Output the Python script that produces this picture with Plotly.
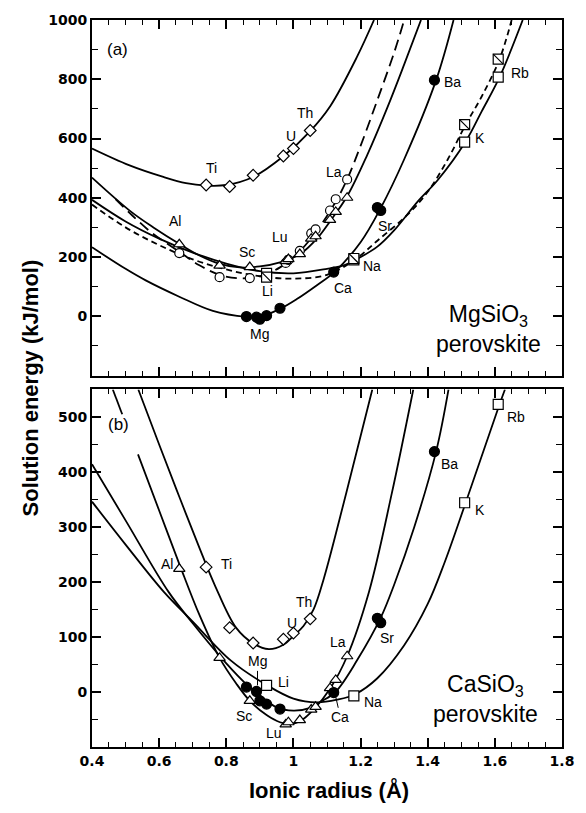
import plotly.graph_objects as go

# ---------------- (a) MgSiO3 perovskite ----------------
# solution energies (kJ/mol) against cation radius (Å)
a_tetra_r = [0.74, 0.81, 0.88, 0.97, 1.00, 1.05]
a_tetra_e = [443, 438, 476, 541, 566, 627]

a_tri_r = [0.66, 0.78, 0.87, 0.977, 0.985, 1.019, 1.053, 1.066, 1.109, 1.126, 1.16]
a_tri_circ_e = [213, 132, 129, 180, 190, 221, 280, 293, 357, 395, 462]
a_tri_tri_e = [243, 171, 166, 186, 193, 210, 262, 270, 325, 352, 400]

a_di_r = [0.86, 0.89, 0.90, 0.92, 0.96, 1.12, 1.25, 1.26, 1.42]
a_di_e = [-1, -3, -10, 2, 27, 149, 367, 357, 797]

a_mono_r = [0.92, 1.18, 1.51, 1.61]
a_mono_sq_e = [145, 190, 588, 807]
a_mono_half_e = [132, 195, 647, 868]

# fitted strain curves, panel (a)
a_fit_tetra_r = [0.40, 0.51, 0.61, 0.68, 0.74, 0.80, 0.88, 0.97, 1.05, 1.11, 1.19, 1.24]
a_fit_tetra_e = [566, 510, 471, 449, 441, 443, 470, 540, 625, 710, 877, 1000]

a_fit_circ_r = [0.47, 0.52, 0.58, 0.66, 0.72, 0.78, 0.84, 0.90, 0.96, 1.02, 1.08, 1.13,
                1.16, 1.20, 1.25, 1.30, 1.33]
a_fit_circ_e = [395, 340, 280, 218, 172, 140, 128, 135, 165, 221, 305, 395,
                462, 575, 730, 890, 1000]

a_fit_tri_r = [0.40, 0.515, 0.584, 0.662, 0.72, 0.78, 0.84, 0.90, 0.96, 1.02, 1.07, 1.11,
               1.16, 1.22, 1.28, 1.33, 1.38]
a_fit_tri_e = [468, 354, 299, 243, 205, 177, 165, 168, 182, 210, 262, 322,
               405, 545, 705, 850, 1000]

a_fit_di_r = [0.40, 0.50, 0.56, 0.66, 0.76, 0.86, 0.90, 0.96, 1.01, 1.07, 1.122, 1.20,
              1.259, 1.33, 1.425, 1.477]
a_fit_di_e = [233, 160, 121, 66, 18, -2, -2, 25, 58, 105, 149, 250,
              363, 530, 797, 1000]

a_fit_sq_r = [0.40, 0.50, 0.60, 0.70, 0.80, 0.90, 1.00, 1.10, 1.147, 1.184, 1.25, 1.30,
              1.37, 1.43, 1.513, 1.56, 1.614, 1.683]
a_fit_sq_e = [393, 320, 262, 215, 178, 152, 145, 160, 171, 190, 235, 290,
              387, 460, 590, 690, 807, 1000]

a_fit_half_r = [0.40, 0.50, 0.60, 0.70, 0.80, 0.90, 1.00, 1.10, 1.184, 1.25, 1.34, 1.40,
                1.46, 1.513, 1.56, 1.614, 1.65]
a_fit_half_e = [377, 300, 240, 192, 158, 135, 127, 140, 192, 255, 343, 420,
                530, 647, 740, 868, 1000]

# ---------------- (b) CaSiO3 perovskite ----------------
b_tetra_r = [0.74, 0.81, 0.88, 0.97, 1.00, 1.05]
b_tetra_e = [227, 117, 89, 96, 107, 133]

b_tri_r = [0.66, 0.78, 0.87, 0.977, 0.985, 1.019, 1.053, 1.066, 1.109, 1.126, 1.16]
b_tri_e = [224, 62, -16, -59, -55, -51, -32, -27, 7, 22, 65]

b_di_r = [0.86, 0.89, 0.90, 0.92, 0.96, 1.12, 1.25, 1.26, 1.42]
b_di_e = [9, 1, -16, -22, -31, -1, 134, 126, 437]

b_mono_r = [0.92, 1.18, 1.51, 1.61]
b_mono_e = [12, -7, 344, 523]

# fitted strain curves, panel (b)
b_fit_tetra_r = [0.538, 0.60, 0.66, 0.72, 0.766, 0.829, 0.881, 0.927, 0.97, 1.00, 1.03,
                 1.06, 1.09, 1.157, 1.235]
b_fit_tetra_e = [550, 450, 355, 262, 194, 117, 88, 78, 86, 102, 120,
                 150, 205, 361, 550]

b_fit_tri_r = [0.462, 0.49, None, 0.537, 0.60, 0.663, 0.72, 0.78, 0.83, 0.87, 0.92, 0.96,
               0.99, 1.02, 1.06, 1.11, 1.16, 1.225, 1.293, 1.357]
b_fit_tri_e = [550, 505, None, 432, 330, 228, 140, 62, 15, -16, -42, -55,
               -58, -53, -32, 7, 65, 182, 361, 550]

b_fit_di_r = [0.40, 0.50, 0.628, 0.70, 0.80, 0.86, 0.90, 0.95, 1.00, 1.05, 1.08, 1.125,
              1.19, 1.26, 1.30, 1.36, 1.425, 1.462]
b_fit_di_e = [414, 312, 182, 125, 52, 14, -6, -28, -34, -29, -18, 0,
              58, 135, 195, 300, 437, 550]

b_fit_sq_r = [0.40, 0.50, 0.614, 0.70, 0.814, 0.922, 1.00, 1.07, 1.13, 1.184, 1.25, 1.33,
              1.40, 1.45, 1.513, 1.614, 1.63]
b_fit_sq_e = [346, 268, 182, 128, 57, 12, -12, -19, -14, -4, 25, 85,
              160, 235, 344, 523, 550]

x_ticks = [0.4, 0.6, 0.8, 1.0, 1.2, 1.4, 1.6, 1.8]
x_tick_text = ["0.4", "0.6", "0.8", "1", "1.2", "1.4", "1.6", "1.8"]
ya_ticks = [0, 200, 400, 600, 800, 1000]
yb_ticks = [0, 100, 200, 300, 400, 500]

FONT = "Liberation Sans, Arial, Helvetica, sans-serif"
INK = "black"

fig = go.Figure()


def curve(r, e, panel, dash="solid"):
    xa, ya = ("x2", "y2") if panel == "a" else ("x", "y")
    fig.add_trace(go.Scatter(
        x=r, y=e, mode="lines", xaxis=xa, yaxis=ya, connectgaps=False,
        line=dict(color=INK, width=1.8, dash=dash, shape="spline", smoothing=1.0),
        hoverinfo="skip", showlegend=False))


def points(r, e, panel, symbol, size, fill="white", lw=1.2):
    xa, ya = ("x2", "y2") if panel == "a" else ("x", "y")
    fig.add_trace(go.Scatter(
        x=r, y=e, mode="markers", xaxis=xa, yaxis=ya,
        marker=dict(symbol=symbol, size=size, color=fill,
                    line=dict(color=INK, width=lw)),
        hoverinfo="skip", showlegend=False))


LONG_DASH = "11px,6px"
SHORT_DASH = "6px,4px"

# panel (a) curves
curve(a_fit_tetra_r, a_fit_tetra_e, "a")
curve(a_fit_circ_r, a_fit_circ_e, "a", LONG_DASH)
curve(a_fit_tri_r, a_fit_tri_e, "a")
curve(a_fit_di_r, a_fit_di_e, "a")
curve(a_fit_sq_r, a_fit_sq_e, "a")
curve(a_fit_half_r, a_fit_half_e, "a", SHORT_DASH)

# panel (a) points
points(a_tetra_r, a_tetra_e, "a", "diamond", 9)
points(a_tri_r, a_tri_circ_e, "a", "circle", 9)
points(a_tri_r, a_tri_tri_e, "a", "triangle-up", 10)
points(a_mono_r, a_mono_sq_e, "a", "square", 10)
points(a_mono_r, a_mono_half_e, "a", "square", 10)
points(a_mono_r, a_mono_half_e, "a", "line-nw", 10, lw=1.2)
points(a_di_r, a_di_e, "a", "circle", 10, fill=INK)

# panel (b) curves
curve(b_fit_tetra_r, b_fit_tetra_e, "b")
curve(b_fit_tri_r, b_fit_tri_e, "b")
curve(b_fit_di_r, b_fit_di_e, "b")
curve(b_fit_sq_r, b_fit_sq_e, "b")

# panel (b) points
points(b_tetra_r, b_tetra_e, "b", "diamond", 9)
points(b_tri_r, b_tri_e, "b", "triangle-up", 10)
points(b_mono_r, b_mono_e, "b", "square", 10)
points(b_di_r, b_di_e, "b", "circle", 10, fill=INK)

annotations = []


def label(text, x, y, panel, size=14, **kw):
    xa, ya = ("x2", "y2") if panel == "a" else ("x", "y")
    d = dict(text=text, x=x, y=y, xref=xa, yref=ya, showarrow=False,
             font=dict(family=FONT, size=size, color=INK))
    d.update(kw)
    annotations.append(d)


# element labels, panel (a)
for t, x, y in [("Ti", 0.755, 500), ("U", 0.992, 610), ("Th", 1.033, 687),
                ("La", 1.122, 487), ("Ba", 1.475, 790), ("Rb", 1.675, 821),
                ("K", 1.557, 601), ("Al", 0.648, 321), ("Sc", 0.861, 216),
                ("Lu", 0.959, 266), ("Li", 0.922, 86), ("Mg", 0.90, -59),
                ("Sr", 1.274, 304), ("Na", 1.233, 171), ("Ca", 1.147, 97)]:
    label(t, x, y, "a")
label("(a)", 0.476, 900, "a", size=17)
label("MgSiO<sub>3</sub><br>perovskite", 1.582, -43, "a", size=23)

# element labels, panel (b)
for t, x, y in [("Al", 0.623, 233), ("Ti", 0.80, 233), ("Th", 1.03, 163),
                ("U", 0.995, 126), ("Li", 0.969, 18), ("Sc", 0.854, -44),
                ("Lu", 0.943, -74), ("La", 1.132, 90), ("Sr", 1.279, 99),
                ("Na", 1.237, -19), ("Ba", 1.465, 414), ("K", 1.555, 330),
                ("Rb", 1.663, 500)]:
    label(t, x, y, "b")
label("(b)", 0.48, 487, "b", size=17)
label("Mg", 0.893, 12, "b", showarrow=True, arrowhead=0, arrowwidth=1,
      arrowcolor=INK, ax=0, ay=-24)
label("Ca", 1.125, -6, "b", showarrow=True, arrowhead=0, arrowwidth=1,
      arrowcolor=INK, ax=5, ay=22)
label("CaSiO<sub>3</sub><br>perovskite", 1.572, -12, "b", size=23)

# axis titles
annotations.append(dict(text="<b>Solution energy (kJ/mol)</b>", x=-0.13, y=0.4945,
                        xref="paper", yref="paper", xanchor="center", yanchor="middle",
                        showarrow=False, textangle=-90,
                        font=dict(family=FONT, size=22, color=INK)))
annotations.append(dict(text="<b>Ionic radius (Å)</b>", x=0.505, y=-0.059,
                        xref="paper", yref="paper", xanchor="center", yanchor="middle",
                        showarrow=False,
                        font=dict(family=FONT, size=22, color=INK)))

tick_font = dict(family="DejaVu Sans, Verdana, sans-serif", size=14, color=INK,
                 weight="bold")
axis_base = dict(showline=True, linewidth=2, linecolor=INK, mirror="allticks",
                 ticks="inside", ticklen=9, tickwidth=1.5, tickcolor=INK,
                 showgrid=False, zeroline=False, tickfont=tick_font)

fig.update_layout(
    width=586, height=813,
    margin=dict(l=92, r=17, t=15, b=66),
    paper_bgcolor="white", plot_bgcolor="white",
    showlegend=False, hovermode=False,
    xaxis=dict(axis_base, domain=[0, 1], anchor="y", range=[0.4, 1.8],
               tickmode="array", tickvals=x_ticks, ticktext=x_tick_text,
               minor=dict(tick0=0.4, dtick=0.05, ticks="inside", ticklen=5,
                          tickwidth=1.2, tickcolor=INK, showgrid=False)),
    xaxis2=dict(axis_base, domain=[0, 1], anchor="y2", range=[0.4, 1.8],
                tickmode="array", tickvals=x_ticks, showticklabels=False,
                minor=dict(tick0=0.4, dtick=0.05, ticks="inside", ticklen=5,
                           tickwidth=1.2, tickcolor=INK, showgrid=False)),
    yaxis=dict(axis_base, domain=[0, 0.4918], anchor="x", range=[-100, 550],
               tickmode="array", tickvals=yb_ticks,
               minor=dict(tick0=0, dtick=50, ticks="inside", ticklen=6,
                          tickwidth=1.2, tickcolor=INK, showgrid=False)),
    yaxis2=dict(axis_base, domain=[0.511, 1], anchor="x2", range=[-200, 1000],
                tickmode="array", tickvals=ya_ticks,
                minor=dict(tick0=0, dtick=100, ticks="inside", ticklen=6,
                           tickwidth=1.2, tickcolor=INK, showgrid=False)),
    annotations=annotations,
)

fig.write_html("out.html")
